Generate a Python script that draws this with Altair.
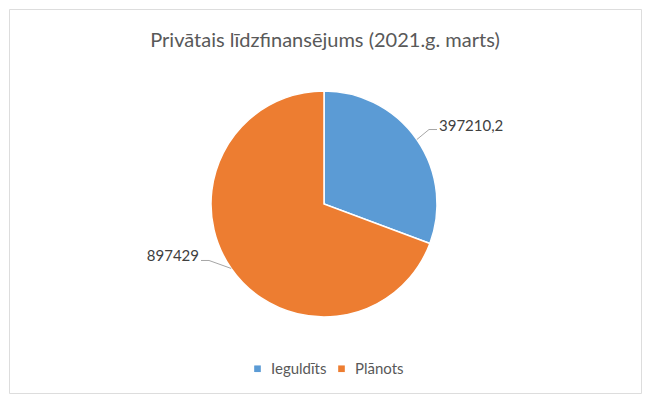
import altair as alt
import pandas as pd

categories = ["Ieguldīts", "Plānots"]
values = [397210.2, 897429]
colors = ["#5B9BD5", "#ED7D31"]

title_text = "Privātais līdzfinansējums (2021.g. marts)"

W, H = 632, 384
PAD = 1
CX, CY = 315, 195
R = 113
R_ELBOW = 128
ANG_SHIFT = 0.07
LIFT = 9
SHIFT_X = -5
TAIL = 8
FONT = "Lato"

df = pd.DataFrame({"category": categories, "value": values})

base = alt.Chart(df).transform_window(
    idx="row_number()"
)

arc = base.mark_arc(outerRadius=R, stroke="white", strokeWidth=1.5).encode(
    theta=alt.Theta("value:Q", stack=True),
    color=alt.Color(
        "category:N",
        scale=alt.Scale(domain=categories, range=colors),
        legend=alt.Legend(
            title=None,
            orient="none",
            legendX=241,
            legendY=352,
            direction="horizontal",
            symbolType="square",
            symbolSize=44,
            symbolStrokeWidth=0,
            labelFont=FONT,
            labelFontSize=15,
            labelColor="#595959",
            labelOffset=6,
            columnPadding=7,
            padding=0,
        ),
    ),
    order=alt.Order("idx:Q"),
    x=alt.value(CX),
    y=alt.value(CY),
)

geo = base.transform_joinaggregate(total="sum(value)").transform_window(
    cum="sum(value)", sort=[alt.SortField("idx")], frame=[None, 0]
).transform_calculate(
    mid="(datum.cum - datum.value / 2) / datum.total * 2 * PI",
).transform_calculate(
    side="sin(datum.mid) >= 0 ? 1 : -1",
    x0=f"{CX} + {R} * sin(datum.mid)",
    y0=f"{CY} - {R} * cos(datum.mid)",
    x1=f"{CX} + {SHIFT_X} + {R_ELBOW} * sin(datum.mid + {ANG_SHIFT})",
    y1=f"{CY} - {LIFT} - {R_ELBOW} * cos(datum.mid + {ANG_SHIFT})",
    label="replace('' + datum.value, '.', ',')",
).transform_calculate(
    x2=f"datum.x1 + datum.side * {TAIL}",
    tx=f"datum.x1 + datum.side * ({TAIL} + 2)",
    ty="datum.y1 + 1",
)

lead1 = geo.mark_rule(color="#A6A6A6", strokeWidth=1).encode(
    x=alt.X("x0:Q", scale=None, axis=None),
    y=alt.Y("y0:Q", scale=None, axis=None),
    x2="x1:Q",
    y2="y1:Q",
)
lead2 = geo.mark_rule(color="#A6A6A6", strokeWidth=1).encode(
    x=alt.X("x1:Q", scale=None, axis=None),
    y=alt.Y("y1:Q", scale=None, axis=None),
    x2="x2:Q",
    y2="y1:Q",
)

text_right = geo.transform_filter("datum.side > 0").mark_text(
    align="left", baseline="alphabetic", font=FONT, fontSize=15, color="#404040"
).encode(
    x=alt.X("tx:Q", scale=None, axis=None),
    y=alt.Y("ty:Q", scale=None, axis=None),
    text="label:N",
)
text_left = geo.transform_filter("datum.side < 0").mark_text(
    align="right", baseline="alphabetic", font=FONT, fontSize=15, color="#404040"
).encode(
    x=alt.X("tx:Q", scale=None, axis=None),
    y=alt.Y("ty:Q", scale=None, axis=None),
    text="label:N",
)

chart = alt.layer(arc, lead1, lead2, text_right, text_left).properties(
    width=W,
    height=H,
    autosize=alt.AutoSizeParams(type="none"),
    padding=PAD,
    title=alt.TitleParams(
        text=title_text,
        font=FONT,
        fontSize=20,
        fontWeight="normal",
        color="#595959",
        anchor="middle",
        orient="top",
        offset=0,
        baseline="alphabetic",
        dy=58,
    ),
).configure_view(
    stroke="#D9D9D9", strokeWidth=1.5, fill="white"
).configure(background="white")

chart.save("out.html", embed_options={"renderer": "svg", "actions": False})
